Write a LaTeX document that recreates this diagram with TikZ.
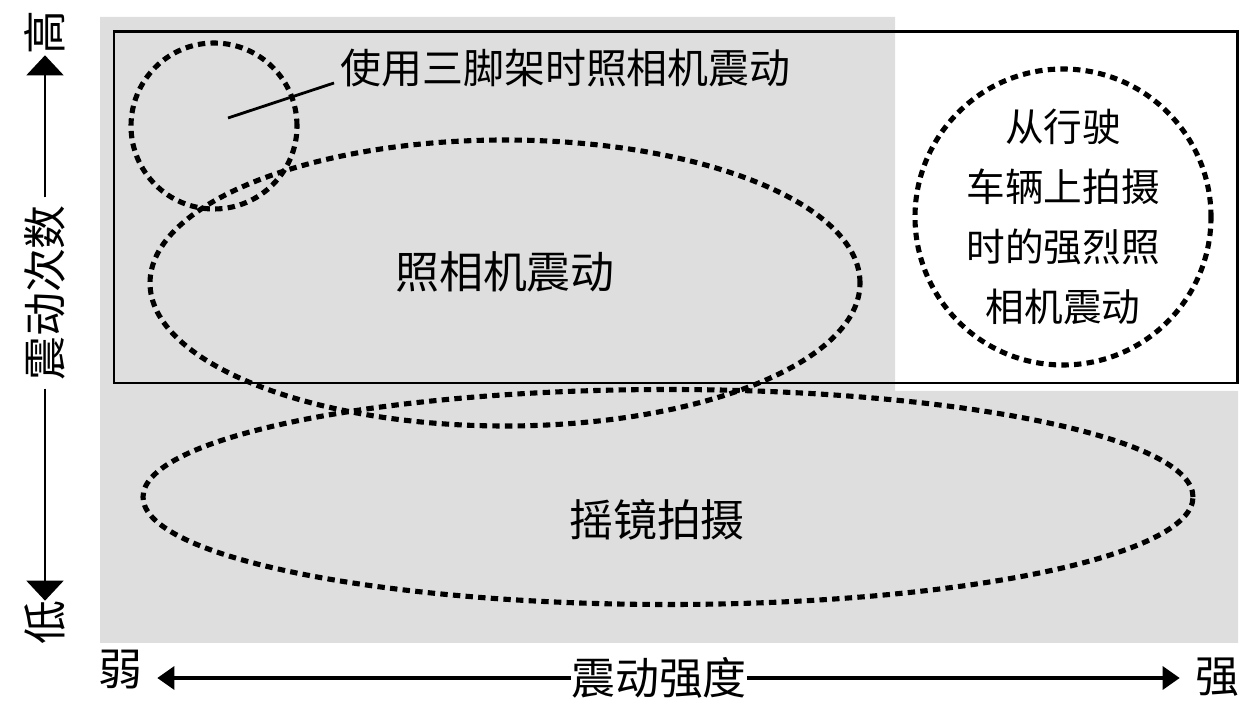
\documentclass[tikz,border=0pt]{standalone}
\usepackage{fontspec}
\newfontfamily\cjk{Noto Sans CJK SC}
\usetikzlibrary{arrows.meta}
\definecolor{panelgray}{RGB}{222,222,222}

\begin{document}
\begin{tikzpicture}[
    zone/.style={line width=2.9pt, dash pattern=on 4.2pt off 3pt},
    lbl/.style={font=\cjk\fontsize{25}{30}\selectfont, inner sep=0pt},
    endlbl/.style={lbl, inner xsep=0.3cm},
    axisv/.style={line width=1.1pt, -{Triangle[length=0.4cm,width=0.74cm]}},
    axish/.style={line width=1.8pt, -{Triangle[length=0.34cm,width=0.46cm]}}
]
    \useasboundingbox (0,0) rectangle (24.86,14.06);

    % Shaded areas and frame
    \fill[panelgray] (2.0,13.72) -- (17.9,13.72) -- (17.9,6.24) -- (24.76,6.24) -- (24.76,1.2) -- (2.0,1.2) -- cycle;
    \draw[line width=1.7pt] (2.28,6.40) rectangle (24.74,13.42);

    % Dotted regions
    \draw[zone] (10.10,8.40) ellipse [x radius=7.10, y radius=2.86];
    \draw[zone] (13.36,4.12) ellipse [x radius=10.50, y radius=2.15];
    \node[zone, draw, circle, minimum size=3.32cm] (tripod) at (4.28,11.54) {};
    \node[zone, draw, circle, minimum size=5.92cm, inner sep=0pt, align=center,
          font=\cjk\fontsize{22}{34}\selectfont] (vehicle) at (21.26,9.72)
          {从行驶\\车辆上拍摄\\时的强烈照\\相机震动};

    % Region labels
    \node[lbl] (shakelbl) at (10.10,8.62) {照相机震动};
    \node[lbl] (panlbl) at (13.14,3.66) {摇镜拍摄};
    \node[lbl, font=\cjk\fontsize{23.3}{28}\selectfont, anchor=west] (tripodlbl) at (6.80,12.70) {使用三脚架时照相机震动};
    \coordinate (tripodpt) at (4.56,11.70);
    \draw[line width=1.6pt] (tripodpt) -- ([xshift=-0.12cm,yshift=-0.3cm]tripodlbl.west);

    % Vertical axis
    \node[lbl, rotate=90] (ylab) at (0.90,8.20) {震动次数};
    \node[lbl, rotate=90] (yhi) at (0.90,13.40) {高};
    \node[lbl, rotate=90] (ylo) at (0.90,1.60) {低};
    \draw[axisv] ([yshift=0.15cm]ylab.east) -- (ylab.east |- yhi.west);
    \draw[axisv] ([yshift=-0.15cm]ylab.west) -- (ylab.west |- ylo.east);

    % Horizontal axis
    \node[lbl] (xlab) at (13.18,0.50) {震动强度};
    \node[endlbl] (xweak) at (2.40,0.66) {弱};
    \node[endlbl] (xstrong) at (24.34,0.52) {强};
    \draw[axish] (xlab.west) -- (xlab.west -| xweak.east);
    \draw[axish] (xlab.east) -- (xlab.east -| xstrong.west);
\end{tikzpicture}
\end{document}
